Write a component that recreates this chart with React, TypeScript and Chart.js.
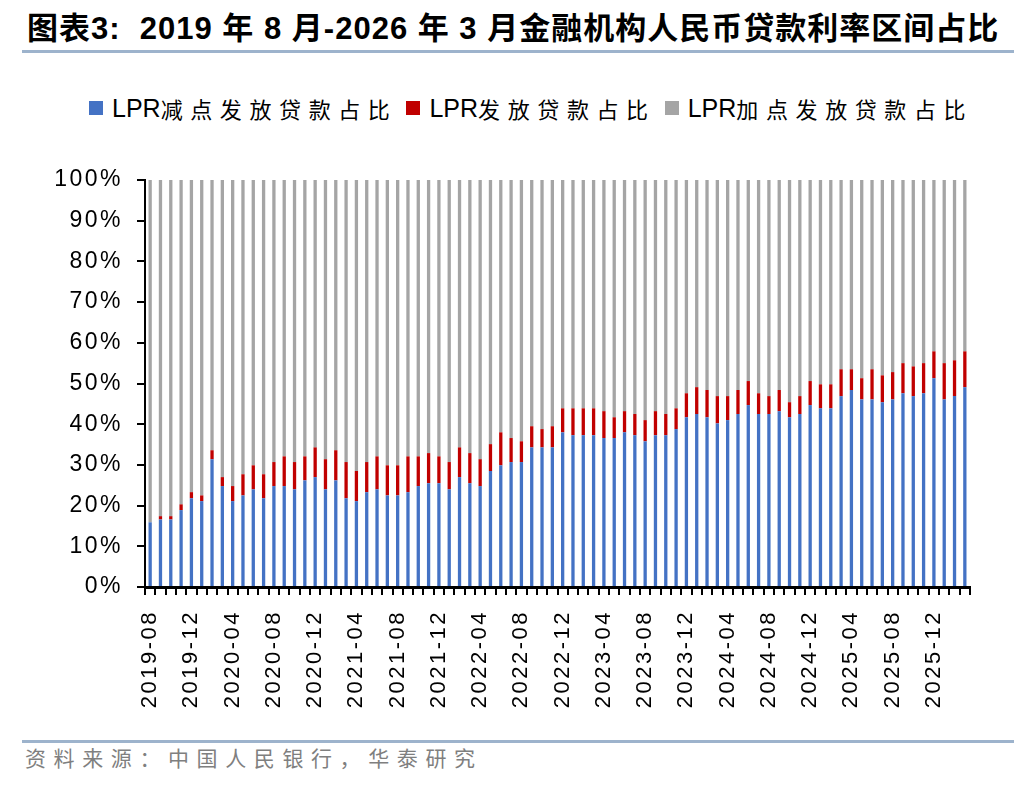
import { useEffect, useRef } from "react";
import { Chart, registerables } from "chart.js";

Chart.register(...registerables);

// 月份（2019-08 至 2026-03）
const months = [
  "2019-08", "2019-09", "2019-10", "2019-11", "2019-12",
  "2020-01", "2020-02", "2020-03", "2020-04", "2020-05", "2020-06",
  "2020-07", "2020-08", "2020-09", "2020-10", "2020-11", "2020-12",
  "2021-01", "2021-02", "2021-03", "2021-04", "2021-05", "2021-06",
  "2021-07", "2021-08", "2021-09", "2021-10", "2021-11", "2021-12",
  "2022-01", "2022-02", "2022-03", "2022-04", "2022-05", "2022-06",
  "2022-07", "2022-08", "2022-09", "2022-10", "2022-11", "2022-12",
  "2023-01", "2023-02", "2023-03", "2023-04", "2023-05", "2023-06",
  "2023-07", "2023-08", "2023-09", "2023-10", "2023-11", "2023-12",
  "2024-01", "2024-02", "2024-03", "2024-04", "2024-05", "2024-06",
  "2024-07", "2024-08", "2024-09", "2024-10", "2024-11", "2024-12",
  "2025-01", "2025-02", "2025-03", "2025-04", "2025-05", "2025-06",
  "2025-07", "2025-08", "2025-09", "2025-10", "2025-11", "2025-12",
  "2026-01", "2026-02", "2026-03",
];

// LPR减点发放贷款占比 (%)
const belowLpr = [
  15.9, 16.6, 16.6, 18.9, 21.8,
  21.1, 31.4, 24.8, 21.1, 22.5, 24.0,
  21.8, 24.8, 24.8, 24.0, 26.2, 27.0,
  24.0, 26.2, 21.8, 21.1, 23.3, 24.0,
  22.5, 22.5, 23.3, 24.8, 25.5, 25.5,
  24.0, 27.0, 25.5, 24.8, 28.5, 29.9,
  30.7, 30.7, 34.3, 34.3, 34.3, 38.0,
  37.3, 37.3, 37.3, 36.6, 36.6, 38.0,
  37.3, 35.8, 37.3, 37.3, 38.8, 41.7,
  42.5, 41.7, 40.2, 41.0, 42.5, 44.7,
  42.5, 42.5, 43.2, 41.7, 42.5, 44.7,
  43.9, 43.9, 46.9, 48.4, 46.1, 46.1,
  45.4, 46.1, 47.6, 46.9, 47.6, 51.3,
  46.1, 46.9, 49.1,
];

// LPR发放贷款占比 (%)
const atLpr = [
  0.0, 0.8, 0.8, 1.4, 1.5,
  1.4, 2.2, 2.2, 3.7, 5.2, 5.9,
  5.9, 5.9, 7.3, 6.7, 5.9, 7.3,
  7.4, 7.4, 8.9, 7.4, 7.4, 8.1,
  7.4, 7.4, 8.8, 7.3, 7.4, 6.6,
  6.7, 7.3, 7.4, 6.6, 6.6, 8.1,
  5.9, 5.1, 5.2, 4.5, 5.2, 5.9,
  6.6, 6.6, 6.6, 6.6, 5.1, 5.2,
  5.2, 5.2, 5.9, 5.2, 5.1, 5.9,
  6.6, 6.7, 6.7, 5.9, 5.9, 5.9,
  5.1, 4.4, 5.2, 3.7, 4.4, 5.9,
  5.9, 5.9, 6.6, 5.1, 5.2, 7.4,
  6.6, 6.7, 7.4, 7.3, 7.4, 6.6,
  8.9, 8.8, 8.8,
];

// LPR加点发放贷款占比 (%)
const aboveLpr = [
  84.1, 82.6, 82.6, 79.7, 76.7,
  77.5, 66.4, 73.0, 75.2, 72.3, 70.1,
  72.3, 69.3, 67.9, 69.3, 67.9, 65.7,
  68.6, 66.4, 69.3, 71.5, 69.3, 67.9,
  70.1, 70.1, 67.9, 67.9, 67.1, 67.9,
  69.3, 65.7, 67.1, 68.6, 64.9, 62.0,
  63.4, 64.2, 60.5, 61.2, 60.5, 56.1,
  56.1, 56.1, 56.1, 56.8, 58.3, 56.8,
  57.5, 59.0, 56.8, 57.5, 56.1, 52.4,
  50.9, 51.6, 53.1, 53.1, 51.6, 49.4,
  52.4, 53.1, 51.6, 54.6, 53.1, 49.4,
  50.2, 50.2, 46.5, 46.5, 48.7, 46.5,
  48.0, 47.2, 45.0, 45.8, 45.0, 42.1,
  45.0, 44.3, 42.1,
];

const seriesNames = ["LPR减点发放贷款占比", "LPR发放贷款占比", "LPR加点发放贷款占比"];
const seriesColors = ["#4472C4", "#C00000", "#A5A5A5"];
const seriesValues = [belowLpr, atLpr, aboveLpr];

const yMax = 100;
const yStep = 10;
const labelEvery = 4;

const latin = '"Liberation Sans", Arial, sans-serif';
const cjk = '"Liberation Sans", Arial, "Noto Sans CJK SC", sans-serif';

// the original renders axis text slightly spaced out
const letterSpacing = {
  id: "letterSpacing",
  beforeLayout(chart: any) {
    chart.ctx.letterSpacing = "2.5px";
  },
  beforeDraw(chart: any) {
    chart.ctx.letterSpacing = "2.5px";
  },
};

function LoanChart() {
  const canvasRef = useRef<HTMLCanvasElement | null>(null);

  useEffect(() => {
    if (!canvasRef.current) return;
    const chart = new Chart(canvasRef.current, {
      type: "bar",
      data: {
        labels: months,
        datasets: seriesNames.map((name, i) => ({
          label: name,
          data: seriesValues[i],
          backgroundColor: seriesColors[i],
          borderWidth: 0,
          barPercentage: 0.32,
          categoryPercentage: 1,
        })),
      },
      options: {
        animation: false,
        responsive: true,
        maintainAspectRatio: false,
        layout: { padding: { left: 0, right: 66, top: 20, bottom: 0 } },
        plugins: {
          legend: { display: false },
          tooltip: { enabled: false },
        },
        scales: {
          x: {
            stacked: true,
            grid: {
              offset: true,
              drawOnChartArea: false,
              color: "#000",
              lineWidth: 2,
              tickLength: 8,
            },
            border: { display: true, color: "#000", width: 3 },
            ticks: {
              autoSkip: false,
              minRotation: 90,
              maxRotation: 90,
              padding: 15,
              color: "#000",
              font: { family: latin, size: 22 },
              callback: (_v: any, index: number) =>
                index % labelEvery === 0 ? months[index] : "",
            },
            afterFit: (scale: any) => {
              scale.height = 133;
            },
          },
          y: {
            stacked: true,
            min: 0,
            max: yMax,
            grid: {
              drawOnChartArea: false,
              color: "#000",
              lineWidth: 2,
              tickLength: 8,
            },
            border: { display: true, color: "#000", width: 2 },
            ticks: {
              stepSize: yStep,
              padding: 14,
              color: "#000",
              font: { family: latin, size: 23 },
              callback: (v: any) => `${v}%`,
            },
            afterFit: (scale: any) => {
              scale.width = 145;
              scale.paddingTop = 0;
              scale.paddingBottom = 0;
            },
          },
        },
      },
      plugins: [letterSpacing],
    });
    return () => chart.destroy();
  }, []);

  return <canvas ref={canvasRef} />;
}

export default function App() {
  return (
    <div
      style={{
        position: "absolute",
        left: 0,
        top: 0,
        width: 1036,
        height: 792,
        background: "#fff",
        fontFamily: cjk,
        color: "#000",
      }}
    >
      {/* 标题 */}
      <div
        style={{
          position: "absolute",
          left: 27,
          top: 11,
          fontSize: 31,
          lineHeight: "36px",
          fontWeight: "bold",
          whiteSpace: "pre",
          letterSpacing: 1.0,
        }}
      >
        {"图表3:  2019 年 8 月-2026 年 3 月金融机构人民币贷款利率区间占比"}
      </div>
      <div style={{ position: "absolute", left: 22, top: 50, width: 992, height: 3, background: "#9DB3CC" }} />

      {/* 图例 */}
      <div
        style={{
          position: "absolute",
          left: 89,
          top: 91,
          height: 34,
          display: "flex",
          alignItems: "center",
          whiteSpace: "nowrap",
        }}
      >
        {seriesNames.map((name, i) => (
          <div key={name} style={{ display: "flex", alignItems: "center", marginRight: 9 }}>
            <span style={{ width: 14, height: 14, background: seriesColors[i], marginRight: 9 }} />
            <span style={{ fontFamily: latin, fontSize: 25 }}>{name.slice(0, 3)}</span>
            <span style={{ fontFamily: '"Noto Sans CJK SC", sans-serif', fontSize: 22, letterSpacing: 7.6 }}>
              {name.slice(3)}
            </span>
          </div>
        ))}
      </div>

      {/* 图 */}
      <div style={{ position: "absolute", left: 0, top: 160, width: 1036, height: 560 }}>
        <LoanChart />
      </div>

      {/* 来源 */}
      <div style={{ position: "absolute", left: 22, top: 740, width: 992, height: 3, background: "#9DB3CC" }} />
      <div
        style={{
          position: "absolute",
          left: 25,
          top: 744,
          fontSize: 21,
          lineHeight: "26px",
          letterSpacing: 7.6,
          color: "#7F7F7F",
          fontFamily: '"Noto Sans CJK SC", sans-serif',
        }}
      >
        资料来源：中国人民银行，华泰研究
      </div>
    </div>
  );
}
